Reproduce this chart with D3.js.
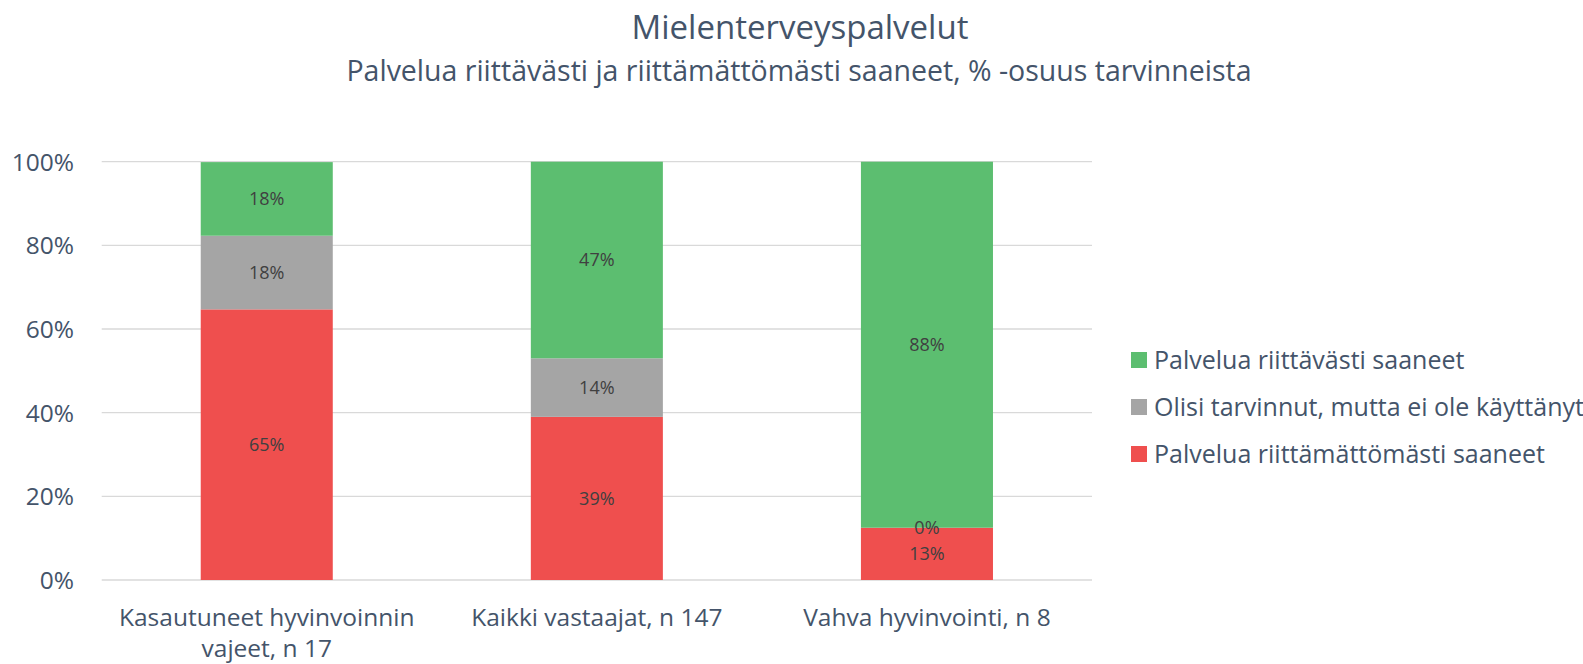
<!DOCTYPE html>
<html><head><meta charset="utf-8">
<script src="https://cdn.jsdelivr.net/npm/d3@7"></script>
<style>body{margin:0;background:#fff;} text{font-family:"Open Sans",Lato,sans-serif;}</style>
</head><body>
<svg id="c" width="1583" height="664"></svg>
<script>
const categories = [["Kasautuneet hyvinvoinnin","vajeet, n 17"],["Kaikki vastaajat, n 147"],["Vahva hyvinvointi, n 8"]];
const seriesNames = ["Palvelua riittämättömästi saaneet","Olisi tarvinnut, mutta ei ole käyttänyt","Palvelua riittävästi saaneet"];
const redValues = [64.7, 39.0, 12.5];
const grayValues = [17.6, 14.0, 0.0];
const greenValues = [17.6, 47.0, 87.5];
const tickValues = [0, 20, 40, 60, 80, 100];
const colors = ["#EF4F4E", "#A5A5A5", "#5CBE70"];

const svg = d3.select("#c");
const pLeft = 101.7, pRight = 1092, pTop = 161.7, pBottom = 580;
const x = d3.scaleBand().domain(d3.range(categories.length)).range([pLeft, pRight]).paddingInner(0.6).paddingOuter(0.3);
const y = d3.scaleLinear().domain([0, 100]).range([pBottom, pTop]);
const textCol = "#44546A";

svg.append("text").attr("x", 800).attr("y", 39).attr("text-anchor", "middle")
  .attr("font-size", 33).attr("fill", textCol).text("Mielenterveyspalvelut");
svg.append("text").attr("x", 799).attr("y", 81).attr("text-anchor", "middle")
  .attr("font-size", 28.5).attr("fill", textCol).text("Palvelua riittävästi ja riittämättömästi saaneet, % -osuus tarvinneista");

// gridlines
svg.append("g").selectAll("line").data(tickValues).join("line")
  .attr("x1", pLeft).attr("x2", pRight).attr("y1", d => y(d)).attr("y2", d => y(d))
  .attr("stroke", "#D9D9D9").attr("stroke-width", 1.3);

// y labels
svg.append("g").selectAll("text").data(tickValues).join("text")
  .attr("x", 74).attr("y", d => y(d)).attr("dy", "0.36em").attr("text-anchor", "end")
  .attr("font-size", 24.5).attr("fill", textCol).text(d => d + "%");

const series = [redValues, grayValues, greenValues];
const stacked = categories.map((c, i) => {
  let acc = 0;
  return series.map((s, k) => { const y0 = acc; acc += s[i]; return {i, k, y0, y1: acc, v: s[i]}; });
});
const flat = stacked.flat();
svg.append("g").selectAll("rect").data(flat).join("rect")
  .attr("x", d => x(d.i)).attr("width", x.bandwidth())
  .attr("y", d => y(d.y1)).attr("height", d => y(d.y0) - y(d.y1))
  .attr("fill", d => colors[d.k]);
svg.append("g").selectAll("text").data(flat).join("text")
  .attr("x", d => x(d.i) + x.bandwidth() / 2)
  .attr("y", d => y((d.y0 + d.y1) / 2)).attr("dy", "0.36em")
  .attr("text-anchor", "middle").attr("font-size", 18).attr("fill", "#404040")
  .text(d => Math.round(d.v) + "%");

// category labels
const cg = svg.append("g");
categories.forEach((lines, i) => {
  lines.forEach((l, j) => {
    cg.append("text").attr("x", x(i) + x.bandwidth() / 2).attr("y", 626 + j * 31)
      .attr("text-anchor", "middle").attr("font-size", 24.5).attr("fill", textCol).text(l);
  });
});

// legend
const legendOrder = [2, 1, 0];
const lg = svg.append("g");
legendOrder.forEach((k, r) => {
  const cy = 360 + r * 47;
  lg.append("rect").attr("x", 1131).attr("y", cy - 8).attr("width", 16).attr("height", 16).attr("fill", colors[k]);
  lg.append("text").attr("x", 1154).attr("y", cy).attr("dy", "0.36em").attr("font-size", 25)
    .attr("fill", textCol).text(seriesNames[k]);
});
</script>
</body></html>
